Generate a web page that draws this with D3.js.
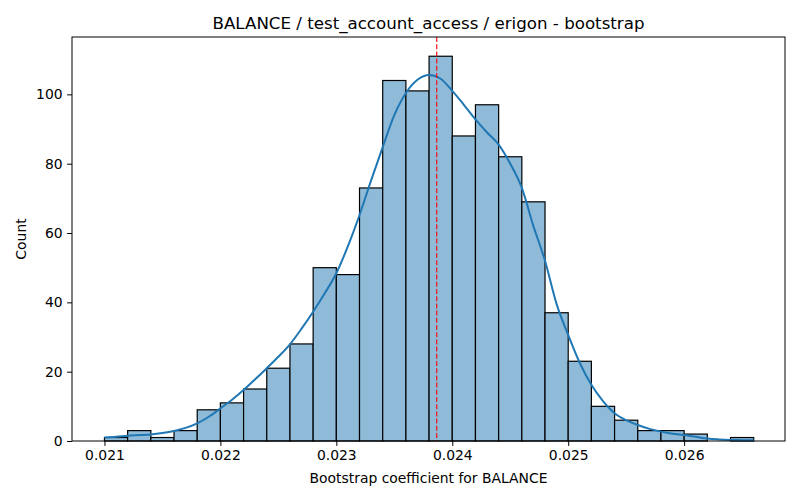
<!DOCTYPE html>
<html>
<head>
  <meta charset="UTF-8">
  <script src="https://d3js.org/d3.v7.min.js"></script>
  <style>
    body { margin: 0; background: #fff; }
    svg text { font-family: 'DejaVu Sans', sans-serif; fill: #000; }
  </style>
</head>
<body>
  <svg id="chart" width="800" height="500"></svg>
<script>
  // histogram bins (left edges) and counts
  const binEdges = [0.0210, 0.0212, 0.0214, 0.0216, 0.0218, 0.0220, 0.0222, 0.0224, 0.0226, 0.0228,
                    0.0230, 0.0232, 0.0234, 0.0236, 0.0238, 0.0240, 0.0242, 0.0244, 0.0246, 0.0248,
                    0.0250, 0.0252, 0.0254, 0.0256, 0.0258, 0.0260, 0.0262, 0.0264, 0.0266];
  const counts = [1, 3, 1, 3, 9, 11, 15, 21, 28, 50,
                  48, 73, 104, 101, 111, 88, 97, 82, 69, 37,
                  23, 10, 6, 3, 3, 2, 0, 1];

  // kde curve
  const kdeX = [0.0210, 0.0211, 0.0212, 0.0213, 0.0214, 0.0215, 0.0216, 0.0217, 0.0218, 0.0219,
                0.0220, 0.0221, 0.0222, 0.0223, 0.0224, 0.0225, 0.0226, 0.0227, 0.0228, 0.0229,
                0.0230, 0.0231, 0.0232, 0.0233, 0.0234, 0.0235, 0.0236, 0.0237, 0.0238, 0.0239,
                0.0240, 0.0241, 0.0242, 0.0243, 0.0244, 0.0245, 0.0246, 0.0247, 0.0248, 0.0249,
                0.0250, 0.0251, 0.0252, 0.0253, 0.0254, 0.0255, 0.0256, 0.0257, 0.0258, 0.0259,
                0.0260, 0.0261, 0.0262, 0.0263, 0.0264, 0.0265, 0.0266];
  const kdeY = [1.0, 1.2, 1.5, 1.7, 1.9, 2.3, 2.9, 3.8, 5.1, 7.0,
                9.4, 11.9, 14.7, 17.8, 21.0, 24.3, 27.9, 32.4, 37.3, 42.6,
                48.4, 56.2, 65.2, 75.2, 84.8, 94.0, 100.4, 104.2, 105.6, 104.5,
                101.0, 97.0, 92.8, 89.0, 85.5, 80.0, 73.0, 62.0, 52.0, 39.5,
                30.6, 22.5, 16.2, 11.5, 8.0, 6.0, 4.6, 3.5, 2.7, 2.1,
                1.7, 1.2, 0.7, 0.45, 0.3, 0.25, 0.2];

  const meanValue = 0.023866;
  const xTicks = [0.021, 0.022, 0.023, 0.024, 0.025, 0.026];
  const yTicks = [0, 20, 40, 60, 80, 100];

  const margin = { top: 37, right: 15, bottom: 59, left: 72 };
  const width = 800, height = 500;

  const svg = d3.select('#chart');

  const x = d3.scaleLinear()
    .domain([0.02072, 0.02687])
    .range([margin.left, width - margin.right]);

  const y = d3.scaleLinear()
    .domain([0, 116.55])
    .range([height - margin.bottom, margin.top]);

  const bins = counts.map((c, i) => ({ x0: binEdges[i], x1: binEdges[i + 1], count: c }));

  // bars
  svg.append('g')
    .selectAll('rect')
    .data(bins.filter(d => d.count > 0))
    .join('rect')
    .attr('x', d => x(d.x0))
    .attr('y', d => y(d.count))
    .attr('width', d => x(d.x1) - x(d.x0))
    .attr('height', d => y(0) - y(d.count))
    .attr('fill', '#8fbbd9')
    .attr('stroke', '#000')
    .attr('stroke-width', 1.2);

  // kde line
  const line = d3.line()
    .x((d, i) => x(kdeX[i]))
    .y(d => y(d))
    .curve(d3.curveMonotoneX);

  svg.append('path')
    .datum(kdeY)
    .attr('d', line)
    .attr('fill', 'none')
    .attr('stroke', '#1f77b4')
    .attr('stroke-width', 2);

  // mean line
  svg.append('line')
    .attr('x1', x(meanValue)).attr('x2', x(meanValue))
    .attr('y1', margin.top).attr('y2', height - margin.bottom)
    .attr('stroke', 'red')
    .attr('stroke-width', 1.1)
    .attr('stroke-dasharray', '5,2.2');

  // axes
  const xAxis = svg.append('g')
    .attr('transform', `translate(0,${height - margin.bottom})`)
    .call(d3.axisBottom(x).tickValues(xTicks).tickFormat(d3.format('.3f')).tickSize(4.9).tickPadding(4.5));

  const yAxis = svg.append('g')
    .attr('transform', `translate(${margin.left},0)`)
    .call(d3.axisLeft(y).tickValues(yTicks).tickSize(4.9).tickPadding(4.5));

  [xAxis, yAxis].forEach(a => {
    a.select('.domain').remove();
    a.selectAll('line').attr('stroke', '#000').attr('stroke-width', 1);
    a.selectAll('text').attr('font-size', '13.9px').attr('font-family', 'DejaVu Sans');
  });

  // frame
  svg.append('rect')
    .attr('x', margin.left)
    .attr('y', margin.top)
    .attr('width', width - margin.right - margin.left)
    .attr('height', height - margin.bottom - margin.top)
    .attr('fill', 'none')
    .attr('stroke', '#000')
    .attr('stroke-width', 1);

  // title and labels
  svg.append('text')
    .attr('x', (margin.left + width - margin.right) / 2)
    .attr('y', 29)
    .attr('text-anchor', 'middle')
    .attr('font-size', '16.67px')
    .text('BALANCE / test_account_access / erigon - bootstrap');

  svg.append('text')
    .attr('x', (margin.left + width - margin.right) / 2)
    .attr('y', 483)
    .attr('text-anchor', 'middle')
    .attr('font-size', '13.9px')
    .text('Bootstrap coefficient for BALANCE');

  svg.append('text')
    .attr('transform', `translate(26,${(margin.top + height - margin.bottom) / 2}) rotate(-90)`)
    .attr('text-anchor', 'middle')
    .attr('font-size', '13.9px')
    .text('Count');
</script>
</body>
</html>
